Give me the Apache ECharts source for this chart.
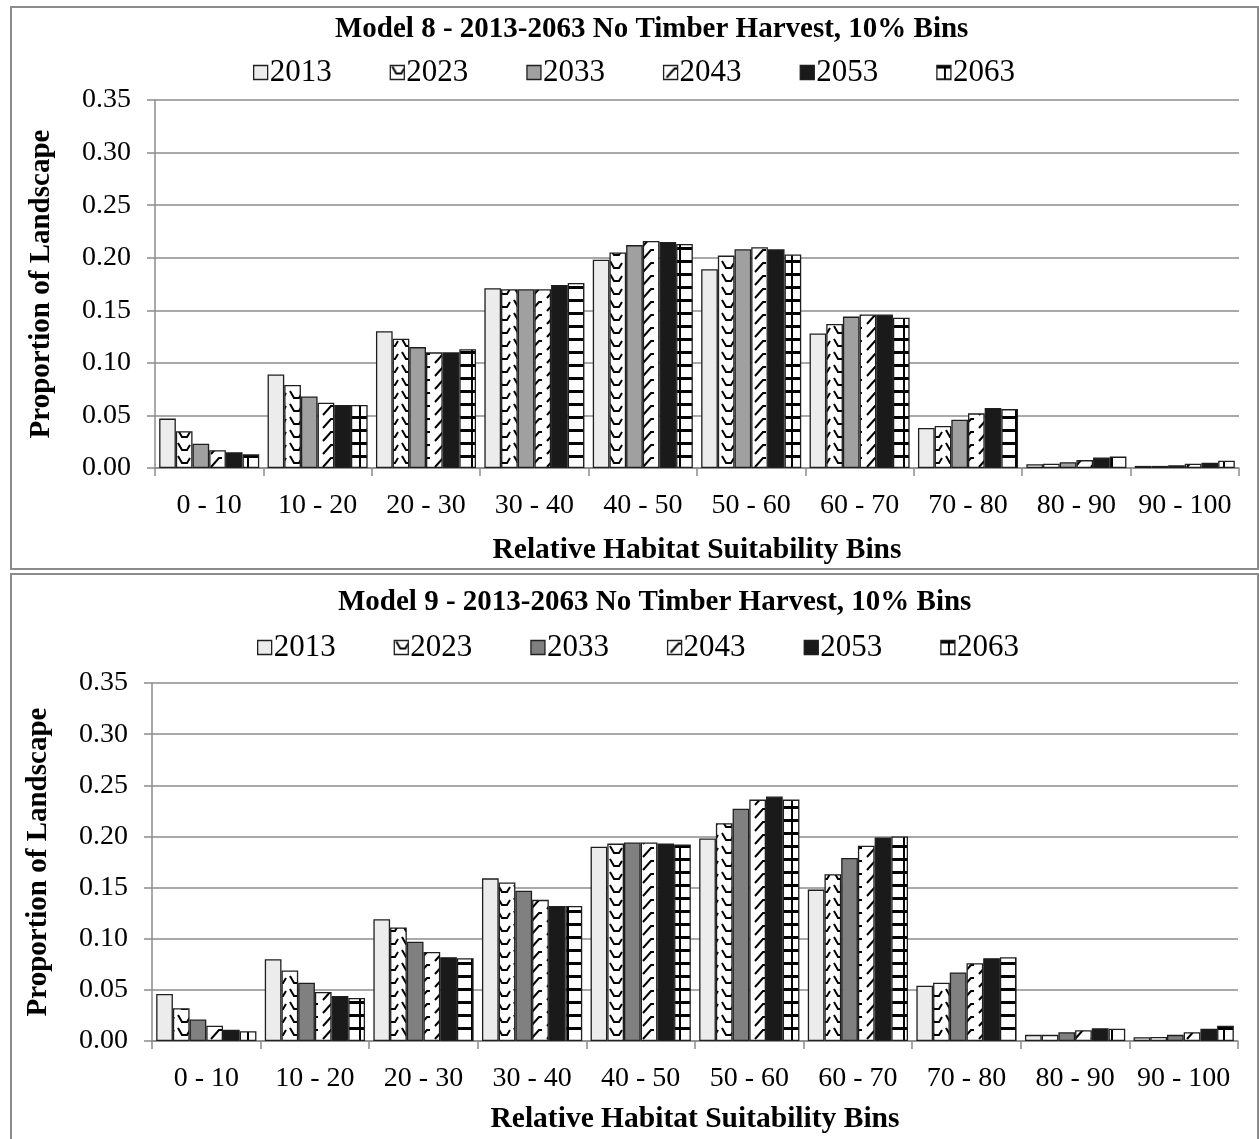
<!DOCTYPE html>
<html>
<head>
<meta charset="utf-8">
<script src="https://cdn.jsdelivr.net/npm/echarts@6/dist/echarts.min.js"></script>
<style>
  body { margin: 0; background: #fff; }
  #chart8 { position: absolute; left: 0; top: 0; width: 1259px; height: 572px; }
  #chart9 { position: absolute; left: 0; top: 572px; width: 1259px; height: 567px; }
</style>
</head>
<body>
<div id="chart8"></div>
<div id="chart9"></div>
<script>
var bins = ['0 - 10', '10 - 20', '20 - 30', '30 - 40', '40 - 50', '50 - 60', '60 - 70', '70 - 80', '80 - 90', '90 - 100'];
var years = ['2013', '2023', '2033', '2043', '2053', '2063'];

// Model 8 - proportion of landscape per bin
var m8_2013 = [0.047, 0.089, 0.130, 0.171, 0.198, 0.189, 0.128, 0.038, 0.0035, 0.002];
var m8_2023 = [0.035, 0.079, 0.123, 0.170, 0.205, 0.202, 0.137, 0.040, 0.004, 0.002];
var m8_2033 = [0.023, 0.068, 0.115, 0.170, 0.212, 0.208, 0.144, 0.046, 0.0055, 0.0025];
var m8_2043 = [0.017, 0.062, 0.110, 0.170, 0.216, 0.210, 0.146, 0.052, 0.0075, 0.004];
var m8_2053 = [0.015, 0.060, 0.110, 0.174, 0.215, 0.208, 0.146, 0.057, 0.010, 0.005];
var m8_2063 = [0.013, 0.060, 0.113, 0.176, 0.213, 0.203, 0.143, 0.056, 0.011, 0.007];

// Model 9
var m9_2013 = [0.046, 0.080, 0.119, 0.159, 0.190, 0.198, 0.148, 0.054, 0.006, 0.0037];
var m9_2023 = [0.032, 0.069, 0.111, 0.155, 0.193, 0.213, 0.163, 0.057, 0.006, 0.004];
var m9_2033 = [0.021, 0.057, 0.097, 0.147, 0.194, 0.227, 0.179, 0.067, 0.0085, 0.006];
var m9_2043 = [0.015, 0.048, 0.087, 0.138, 0.194, 0.236, 0.191, 0.076, 0.0105, 0.0085];
var m9_2053 = [0.011, 0.044, 0.082, 0.132, 0.193, 0.239, 0.199, 0.081, 0.0125, 0.012];
var m9_2063 = [0.0095, 0.042, 0.081, 0.132, 0.192, 0.236, 0.200, 0.082, 0.012, 0.015];

function pat(w, h, draw) {
    var c = document.createElement('canvas');
    c.width = w; c.height = h;
    var ctx = c.getContext('2d');
    ctx.fillStyle = '#fff';
    ctx.fillRect(0, 0, w, h);
    ctx.fillStyle = '#000';
    ctx.strokeStyle = '#000';
    ctx.lineWidth = 2;
    draw(ctx);
    return { image: c, repeat: 'repeat' };
}

var wave = pat(16, 13, function (ctx) {
    ctx.beginPath();
    ctx.moveTo(2, 1); ctx.lineTo(6, 8); ctx.lineTo(11, 8); ctx.lineTo(14, 3);
    ctx.stroke();
});
var slash = pat(16, 13, function (ctx) {
    ctx.beginPath();
    ctx.moveTo(3, 12); ctx.lineTo(11, 3); ctx.lineTo(14, 3);
    ctx.stroke();
});
var brick = pat(16, 13, function (ctx) {
    ctx.fillRect(0, 0, 16, 3);
    ctx.fillRect(7, 3, 2, 10);
});

var font = '"Liberation Serif", "Times New Roman", serif';

function makeOption(title, data, gray, g) {
    var fills = ['#ececec', wave, gray, slash, '#1a1a1a', brick];
    var series = years.map(function (y, i) {
        return {
            name: y,
            type: 'bar',
            barGap: '0%',
            barCategoryGap: '7.7%',
            animation: false,
            itemStyle: { color: fills[i], borderColor: '#1f1f1f', borderWidth: 1.3 },
            data: data[i]
        };
    });
    return {
        backgroundColor: '#fff',
        textStyle: { fontFamily: font },
        title: {
            text: title,
            left: g.titleLeft,
            top: g.titleTop,
            padding: 0,
            textStyle: { fontFamily: font, fontSize: 29, fontWeight: 'bold', color: '#000' }
        },
        legend: {
            data: years,
            left: g.legendLeft,
            top: g.legendTop,
            padding: 0,
            icon: 'rect',
            itemWidth: 14,
            itemHeight: 14,
            itemGap: 58,
            textStyle: { fontFamily: font, fontSize: 31, color: '#000', padding: [0, 0, 0, -3] },
            itemStyle: { borderColor: '#1f1f1f', borderWidth: 1.3 }
        },
        graphic: [{
            type: 'rect',
            shape: { x: 11, y: g.frameY, width: 1247, height: g.frameH },
            style: { fill: 'none', stroke: '#8c8c8c', lineWidth: 2 },
            silent: true
        }],
        grid: { left: g.left, right: 1259 - g.right, top: g.top, height: g.height },
        xAxis: {
            type: 'category',
            data: bins,
            name: 'Relative Habitat Suitability Bins',
            nameLocation: 'middle',
            nameGap: g.xNameGap,
            nameTextStyle: { fontFamily: font, fontSize: 29.5, fontWeight: 'bold', color: '#000' },
            axisLine: { lineStyle: { color: '#8c8c8c', width: 1.5 } },
            axisTick: { show: true, length: 8, lineStyle: { color: '#8c8c8c', width: 1.5 } },
            axisLabel: { fontFamily: font, fontSize: 28, color: '#000', margin: 24, interval: 0 }
        },
        yAxis: {
            type: 'value',
            min: 0,
            max: 0.35,
            interval: 0.05,
            name: 'Proportion of Landscape',
            nameLocation: 'middle',
            nameGap: 99,
            nameTextStyle: { fontFamily: font, fontSize: 29, fontWeight: 'bold', color: '#000' },
            axisLine: { show: true, lineStyle: { color: '#8c8c8c', width: 1.5 } },
            axisTick: { show: true, length: 8, lineStyle: { color: '#8c8c8c', width: 1.5 } },
            axisLabel: {
                fontFamily: font, fontSize: 28, color: '#000', margin: 24,
                formatter: function (v) { return v.toFixed(2); }
            },
            splitLine: { lineStyle: { color: '#8c8c8c', width: 1.5 } }
        },
        series: series
    };
}

var c8 = echarts.init(document.getElementById('chart8'));
c8.setOption(makeOption('Model 8 - 2013-2063 No Timber Harvest, 10% Bins',
    [m8_2013, m8_2023, m8_2033, m8_2043, m8_2053, m8_2063], '#a0a0a0',
    { titleLeft: 335, titleTop: 15, legendLeft: 253, legendTop: 57, frameY: 7, frameH: 562,
      left: 155, right: 1239, top: 100, height: 368, xNameGap: 67 }));

var c9 = echarts.init(document.getElementById('chart9'));
c9.setOption(makeOption('Model 9 - 2013-2063 No Timber Harvest, 10% Bins',
    [m9_2013, m9_2023, m9_2033, m9_2043, m9_2053, m9_2063], '#808080',
    { titleLeft: 338, titleTop: 16, legendLeft: 257, legendTop: 60, frameY: 2, frameH: 566,
      left: 152, right: 1238, top: 111, height: 359, xNameGap: 63 }));
</script>
</body>
</html>
